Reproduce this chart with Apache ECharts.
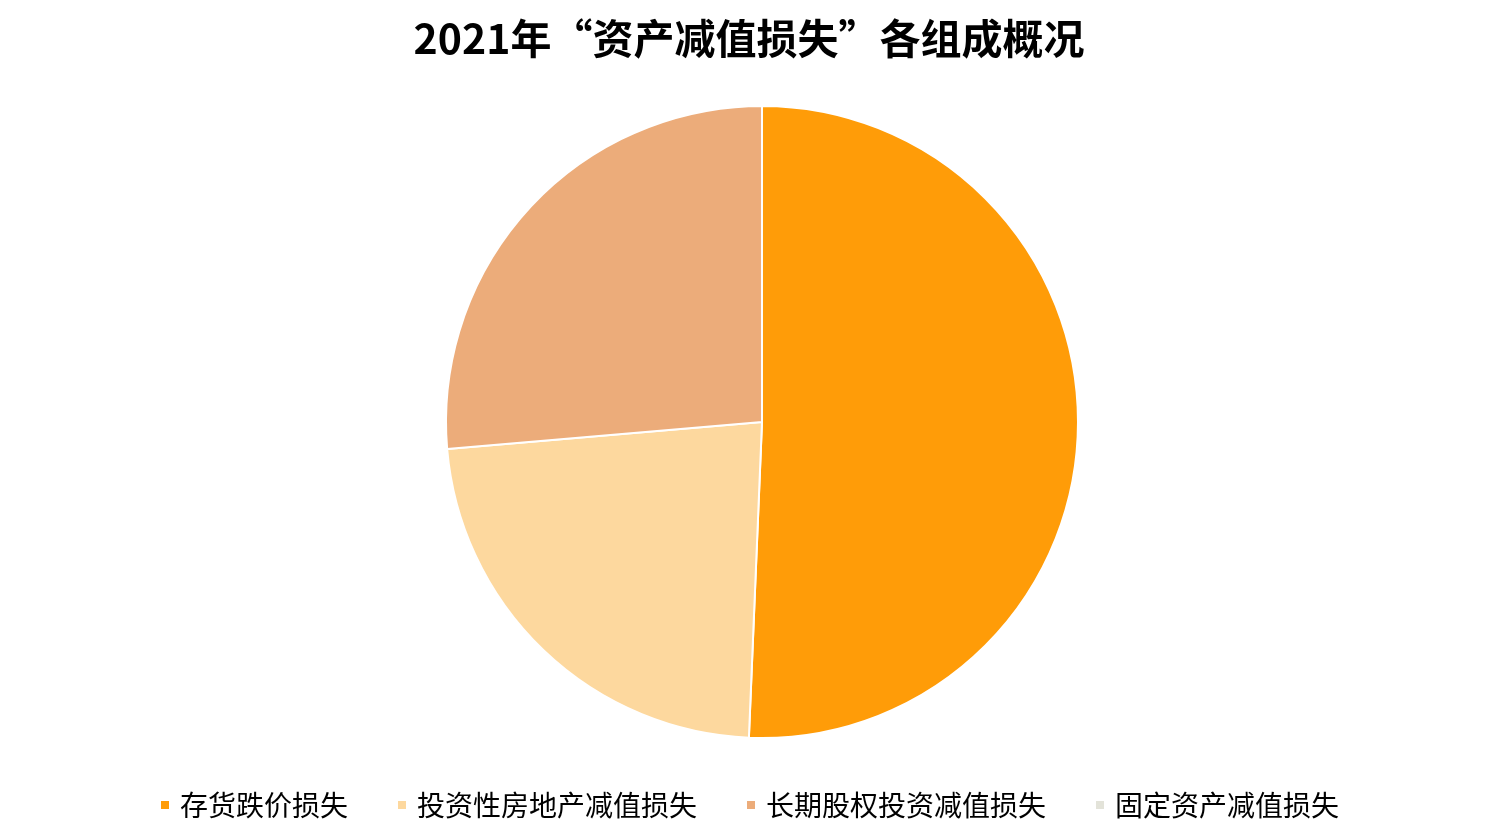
<!DOCTYPE html>
<html>
<head>
<meta charset="utf-8">
<script src="https://cdn.jsdelivr.net/npm/echarts@6/dist/echarts.min.js"></script>
<style>
html,body{margin:0;padding:0;background:#fff;}
#c{width:1498px;height:831px;}
</style>
</head>
<body>
<div id="c"></div>
<script>
const categories = ['存货跌价损失', '投资性房地产减值损失', '长期股权投资减值损失', '固定资产减值损失'];
const values = [50.66, 22.98, 26.36, 0];
const colors = ['#FF9C08', '#FDD89E', '#ECAC7A', '#E3E3D9'];
const titleText = '2021年“资产减值损失”各组成概况';

const chart = echarts.init(document.getElementById('c'));
chart.setOption({
  animation: false,
  backgroundColor: '#fff',
  color: colors,
  title: {
    text: titleText,
    left: 'center',
    top: 13,
    textStyle: {fontFamily: 'Noto Sans CJK SC', fontSize: 41, fontWeight: 'bold', color: '#000'}
  },
  legend: {
    bottom: 7,
    left: 'center',
    icon: 'rect',
    itemWidth: 10,
    itemHeight: 10,
    itemGap: 48,
    textStyle: {fontFamily: 'Noto Sans CJK SC', fontSize: 28, color: '#000', padding: [0, 0, 0, 5]},
    data: categories
  },
  series: [{
    type: 'pie',
    center: [762, 422],
    radius: [0, 316],
    startAngle: 90,
    clockwise: true,
    label: {show: false},
    labelLine: {show: false},
    emphasis: {disabled: true},
    itemStyle: {borderColor: '#fff', borderWidth: 2},
    data: categories.map((n, i) => ({name: n, value: values[i]}))
  }]
});
</script>
</body>
</html>
